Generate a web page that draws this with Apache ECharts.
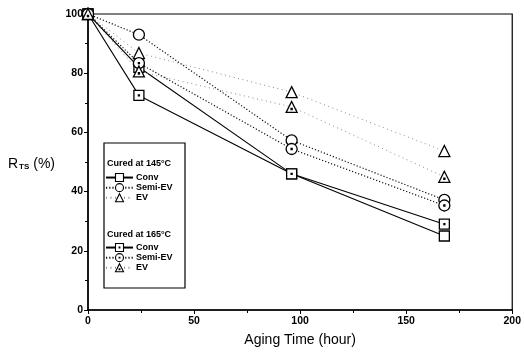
<!DOCTYPE html>
<html>
<head>
<meta charset="utf-8">
<script src="https://cdn.jsdelivr.net/npm/echarts@6/dist/echarts.min.js"></script>
<style>html,body{margin:0;padding:0;background:#fff;}#c{width:524px;height:354px;}</style>
</head>
<body>
<div id="c"></div>
<script>
var hours = [0, 24, 96, 168];
var conv145 = [100, 82, 46, 25];
var semi145 = [100, 93, 57.3, 37.2];
var ev145 = [100, 86.8, 73.6, 53.7];
var conv165 = [100, 72.5, 46, 29];
var semi165 = [100, 83.4, 54.4, 35.3];
var ev165 = [100, 80.6, 68.6, 45];
var xTicks = [0, 50, 100, 150, 200];
var yTicks = [0, 20, 40, 60, 80, 100];

var FONT = 'Liberation Sans';
var SQ = 'path://M0,0L10,0L10,10L0,10Z';
var SQD = 'path://M0,0L10,0L10,10L0,10Z M4.5,4.5L5.5,4.5L5.5,5.5L4.5,5.5Z';
var CI = 'path://M10,5A5,5,0,1,1,0,5A5,5,0,1,1,10,5Z';
var CID = 'path://M10,5A5,5,0,1,1,0,5A5,5,0,1,1,10,5Z M4.5,4.5L5.5,4.5L5.5,5.5L4.5,5.5Z';
var TR = 'path://M5,0L10,9L0,9Z';
var TRD = 'path://M5,0L10,9L0,9Z M4.5,5.6L5.5,5.6L5.5,6.6L4.5,6.6Z';

function pairs(vals){ return hours.map(function(h,i){ return [h, vals[i]]; }); }
function mk(name, vals, sym, size, lineStyle){
  return {
    name: name, type: 'line', data: pairs(vals),
    symbol: sym, symbolSize: size, showSymbol: true,
    lineStyle: lineStyle,
    itemStyle: {color: '#fff', borderColor: '#000', borderWidth: 1.3},
    emphasis: {disabled: true}, z: 3, animation: false
  };
}
var solid = {color: '#000', width: 1.1, type: 'solid'};
var dotted = {color: '#111', width: 1.2, type: [1.2, 2]};
var sparse = {color: '#888', width: 1, type: [1, 3.5]};

var legendCommon = {
  orient: 'vertical', left: 105, itemGap: 1, itemWidth: 27, itemHeight: 10,
  selectedMode: false,
  formatter: function(n){ return n.split('|')[0]; },
  itemStyle: {borderWidth: 1.1},
  textStyle: {fontFamily: FONT, fontSize: 9, fontWeight: 'bold', color: '#000', padding: [0,0,0,-2]},
  padding: 0
};

var series = [
  mk('Conv|145', conv145, SQ, 10, solid),
  mk('Semi-EV|145', semi145, CI, 11, dotted),
  mk('EV|145', ev145, TR, 11, sparse),
  mk('Conv|165', conv165, SQD, 10, solid),
  mk('Semi-EV|165', semi165, CID, 11, dotted),
  mk('EV|165', ev165, TRD, 11, sparse)
];

var chart = echarts.init(document.getElementById('c'), null, {renderer: 'canvas'});
chart.setOption({
  animation: false,
  backgroundColor: '#fff',
  grid: {left: 88, right: 10, top: 14, bottom: 44, show: true, borderColor: '#000', borderWidth: 1.2},
  xAxis: {
    type: 'value', min: xTicks[0], max: xTicks[xTicks.length-1], interval: 50,
    axisLine: {onZero: false, lineStyle: {color: '#000', width: 1.5}},
    axisTick: {show: true, length: 4, lineStyle: {color: '#000'}},
    minorTick: {show: true, splitNumber: 2, length: 3, lineStyle: {color: '#000'}},
    splitLine: {show: false},
    axisLabel: {fontFamily: FONT, fontSize: 10.5, fontWeight: 'bold', color: '#000', margin: 6},
    name: 'Aging Time (hour)', nameLocation: 'middle', nameGap: 23,
    nameTextStyle: {fontFamily: FONT, fontSize: 14, color: '#000'}
  },
  yAxis: {
    type: 'value', min: yTicks[0], max: yTicks[yTicks.length-1], interval: 20,
    axisLine: {onZero: false, lineStyle: {color: '#000', width: 1.5}},
    axisTick: {show: true, length: 4, lineStyle: {color: '#000'}},
    minorTick: {show: true, splitNumber: 2, length: 3, lineStyle: {color: '#000'}},
    splitLine: {show: false},
    axisLabel: {fontFamily: FONT, fontSize: 10.5, fontWeight: 'bold', color: '#000', margin: 5}
  },
  legend: [
    Object.assign({top: 173, data: ['Conv|145', 'Semi-EV|145', 'EV|145']}, legendCommon),
    Object.assign({top: 243, data: ['Conv|165', 'Semi-EV|165', 'EV|165']}, legendCommon)
  ],
  graphic: [
    {type: 'rect', shape: {x: 104, y: 143, width: 81, height: 145}, style: {fill: 'none', stroke: '#000', lineWidth: 1.2}, z: 10},
    {type: 'text', x: 107, y: 164, style: {text: 'Cured at 145°C', font: 'bold 9px "Liberation Sans"', fill: '#000', verticalAlign: 'middle'}, z: 10},
    {type: 'text', x: 107, y: 235, style: {text: 'Cured at 165°C', font: 'bold 9px "Liberation Sans"', fill: '#000', verticalAlign: 'middle'}, z: 10},
    {type: 'text', x: 8, y: 164, style: {
      text: '{a|R}{s|TS}{a| (%)}', verticalAlign: 'middle',
      rich: {a: {fontFamily: FONT, fontSize: 14, color: '#000'}, s: {fontFamily: FONT, fontSize: 8, fontWeight: 'bold', color: '#000', padding: [6,0,0,1]}}
    }}
  ],
  series: series
});
</script>
</body>
</html>
